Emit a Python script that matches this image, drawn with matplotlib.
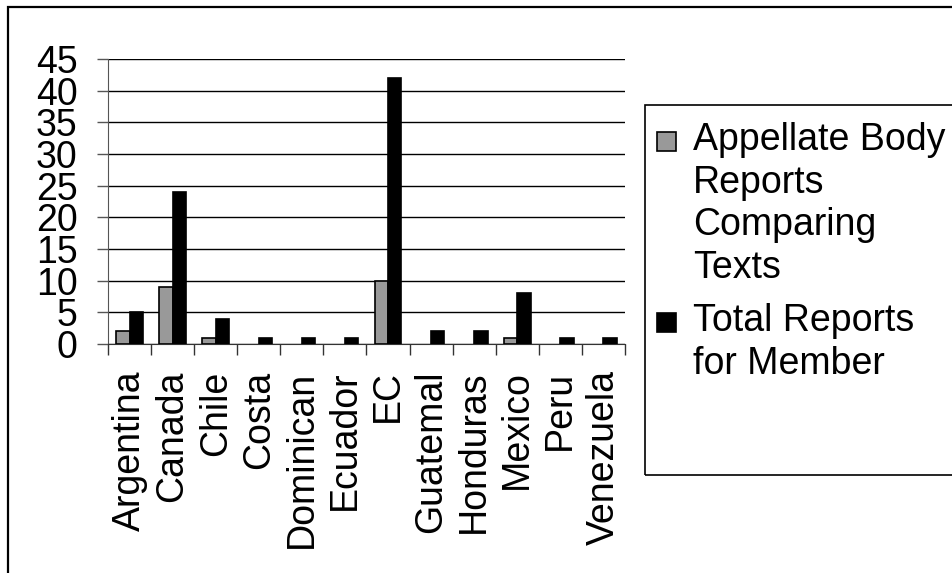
import matplotlib
matplotlib.use("Agg")
import matplotlib.pyplot as plt
import numpy as np
from matplotlib.patches import Rectangle
from matplotlib.ticker import FixedLocator, NullFormatter

plt.rcParams['font.family'] = ['Liberation Sans', 'DejaVu Sans']

categories = ["Argentina", "Canada", "Chile", "Costa", "Dominican", "Ecuador",
              "EC", "Guatemal", "Honduras", "Mexico", "Peru", "Venezuela"]
appellate = [2, 9, 1, 0, 0, 0, 10, 0, 0, 1, 0, 0]
total = [5, 24, 4, 1, 1, 1, 42, 2, 2, 8, 1, 1]
yticks = [0, 5, 10, 15, 20, 25, 30, 35, 40, 45]
legend_labels = [["Appellate Body", "Reports", "Comparing", "Texts"],
                 ["Total Reports", "for Member"]]
colors = ['#999999', 'black']

W, H = 953, 573
FS = 27
fig = plt.figure(figsize=(W / 100, H / 100), dpi=100)

# outer border
fig.patches.append(Rectangle((8 / W, -0.1), 1.2, 1 - 7 / H + 0.1, transform=fig.transFigure,
                             fill=False, edgecolor='black', linewidth=1.6))

ax = fig.add_axes([108 / W, 1 - 344 / H, (625 - 108) / W, (344 - 59) / H])
x = np.arange(len(categories))
bw = 0.31
for vals, off, col in [(np.array(appellate), -bw / 2, colors[0]), (np.array(total), bw / 2, colors[1])]:
    m = vals > 0
    ax.bar(x[m] + off, vals[m], bw, color=col, edgecolor='black', linewidth=1.2, zorder=3)

ax.set_xlim(-0.5, len(categories) - 0.5)
ax.set_ylim(0, 45)
ax.set_yticks(yticks)
ax.yaxis.grid(True, color='black', linewidth=1.0, zorder=0)
ax.set_axisbelow(True)

ax.set_xticks(x)
ax.set_xticklabels(categories, rotation=90, fontsize=FS)
ax.xaxis.set_minor_locator(FixedLocator(np.arange(-0.5, len(categories), 1.0)))
ax.xaxis.set_minor_formatter(NullFormatter())
ax.tick_params(axis='x', which='major', length=0, pad=19)
ax.tick_params(axis='x', which='minor', length=8, width=1, color='#333333', direction='out')
ax.tick_params(axis='y', length=8, width=1, color='#555555', direction='out', pad=14, labelsize=FS)

for s in ['top', 'right']:
    ax.spines[s].set_visible(False)
ax.spines['left'].set_color('#555555')
ax.spines['bottom'].set_color('#333333')

# legend (frame, swatches, text)
fig.patches.append(Rectangle((645 / W, 1 - 475 / H), 1.0, (475 - 105) / H, transform=fig.transFigure,
                             fill=False, edgecolor='black', linewidth=1.2))
baselines = [[150, 192.7, 235.3, 278], [331, 374]]
swatch_top = [132, 313]
for lines, bl, st, col in zip(legend_labels, baselines, swatch_top, colors):
    fig.patches.append(Rectangle((657 / W, 1 - (st + 19) / H), 19 / W, 19 / H,
                                 transform=fig.transFigure, facecolor=col,
                                 edgecolor='black', linewidth=1.2))
    for line, b in zip(lines, bl):
        fig.text(693 / W, 1 - b / H, line, fontsize=FS, va='baseline', ha='left')

fig.savefig("out.png", dpi=100)
